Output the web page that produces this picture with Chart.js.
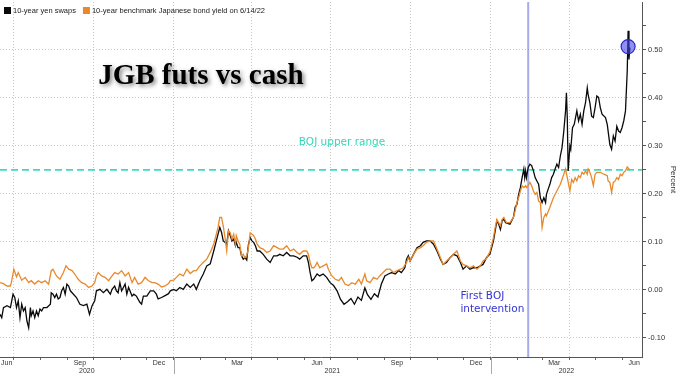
<!DOCTYPE html>
<html>
<head>
<meta charset="utf-8">
<script src="https://cdn.jsdelivr.net/npm/chart.js@4.4.1/dist/chart.umd.min.js"></script>
<style>
  html, body { margin: 0; padding: 0; background: #fff; }
  #wrap { position: relative; width: 680px; height: 374px; }
</style>
</head>
<body>
<div id="wrap"><canvas id="jgbChart"></canvas></div>
<script>
// x values are days counted from 15 Jun 2020
const startDate = Date.UTC(2020, 5, 15);
const dayOf = (y, m, d) => (Date.UTC(y, m, d) - startDate) / 864e5;

// 10-year yen swaps
const swapDays = [
  0, 2, 4, 8, 12, 15, 17, 19, 21, 23,
  25, 27, 29, 31, 33, 35, 36, 38, 40, 42,
  44, 46, 48, 50, 54, 58, 59, 61, 63, 65,
  67, 69, 71, 73, 75, 77, 79, 81, 83, 88,
  92, 96, 100, 102, 103, 106, 109, 111, 115, 119,
  123, 127, 129, 132, 134, 136, 138, 140, 142, 144,
  146, 148, 152, 154, 157, 161, 163, 165, 169, 173,
  177, 180, 182, 186, 190, 194, 196, 200, 203, 207,
  211, 215, 219, 223, 226, 230, 234, 238, 242, 246,
  249, 251, 253, 255, 257, 259, 261, 263, 265, 267,
  269, 271, 272, 274, 276, 278, 280, 282, 284, 286,
  288, 290, 292, 294, 296, 299, 303, 307, 311, 315,
  319, 322, 326, 330, 334, 338, 342, 345, 349, 353,
  355, 357, 359, 361, 365, 368, 372, 376, 380, 384,
  388, 392, 396, 400, 404, 408, 412, 416, 420, 423,
  427, 431, 435, 439, 443, 447, 451, 455, 459, 462,
  466, 468, 470, 472, 476, 480, 484, 487, 491, 495,
  499, 503, 507, 510, 514, 518, 522, 526, 530, 533,
  537, 541, 545, 549, 553, 556, 560, 564, 568, 570,
  572, 574, 576, 578, 580, 582, 587, 591, 593, 595,
  597, 599, 601, 603, 604, 605, 606, 608, 610, 612,
  614, 616, 618, 620, 622, 624, 626, 628, 629, 631,
  633, 635, 637, 639, 641, 643, 645, 647, 649, 651,
  652, 653, 654, 656, 657, 659, 661, 664, 666, 668,
  670, 672, 674, 676, 677, 679, 681, 683, 685, 687,
  689, 691, 693, 697, 699, 700, 702, 704, 706, 708,
  710, 712, 714, 716, 718, 720, 722, 723, 724, 725
];
const swapVals = [
  -0.051, -0.058, -0.037, -0.033, -0.037, -0.009, -0.016, -0.037, -0.023, -0.058,
  -0.030, -0.044, -0.037, -0.065, -0.079, -0.037, -0.054, -0.044, -0.058, -0.044,
  -0.054, -0.040, -0.044, -0.037, -0.037, -0.030, -0.006, -0.009, -0.016, -0.009,
  -0.019, -0.016, -0.002, 0.005, -0.009, 0.012, 0.008, -0.002, -0.006, -0.016,
  -0.030, -0.033, -0.030, -0.044, -0.051, -0.033, -0.023, -0.002, 0.001, -0.006,
  0.001, -0.009, 0.001, 0.008, -0.002, -0.006, 0.015, -0.002, 0.005, 0.012,
  -0.009, 0.005, -0.013, -0.009, -0.013, -0.026, -0.030, -0.013, -0.013, -0.002,
  -0.002, -0.009, -0.019, -0.016, -0.012, -0.008, -0.002, 0.001, -0.002, 0.005,
  0.001, 0.012, 0.005, 0.012, 0.001, 0.019, 0.033, 0.050, 0.054, 0.081,
  0.102, 0.116, 0.130, 0.120, 0.102, 0.099, 0.095, 0.123, 0.113, 0.102,
  0.106, 0.092, 0.099, 0.088, 0.088, 0.071, 0.064, 0.067, 0.062, 0.095,
  0.109, 0.102, 0.099, 0.092, 0.081, 0.081, 0.074, 0.064, 0.057, 0.071,
  0.071, 0.074, 0.071, 0.078, 0.071, 0.071, 0.068, 0.064, 0.071, 0.071,
  0.057, 0.036, 0.019, 0.022, 0.033, 0.029, 0.033, 0.026, 0.015, 0.009,
  -0.002, -0.020, -0.030, -0.025, -0.018, -0.030, -0.015, -0.022, 0.004, -0.010,
  -0.020, -0.008, -0.015, 0.012, 0.029, 0.033, 0.036, 0.033, 0.040, 0.036,
  0.046, 0.064, 0.071, 0.060, 0.074, 0.088, 0.092, 0.099, 0.102, 0.102,
  0.095, 0.081, 0.064, 0.053, 0.057, 0.067, 0.074, 0.071, 0.057, 0.043,
  0.050, 0.043, 0.046, 0.046, 0.050, 0.053, 0.067, 0.075, 0.102, 0.123,
  0.144, 0.137, 0.126, 0.144, 0.147, 0.140, 0.137, 0.151, 0.172, 0.178,
  0.199, 0.213, 0.234, 0.252, 0.234, 0.248, 0.234, 0.255, 0.262, 0.259,
  0.248, 0.234, 0.227, 0.220, 0.192, 0.182, 0.192, 0.182, 0.199, 0.210,
  0.220, 0.234, 0.241, 0.252, 0.262, 0.255, 0.279, 0.297, 0.331, 0.373,
  0.411, 0.359, 0.248, 0.300, 0.293, 0.338, 0.345, 0.373, 0.352, 0.366,
  0.345, 0.373, 0.390, 0.421, 0.407, 0.390, 0.362, 0.359, 0.380, 0.404,
  0.401, 0.380, 0.366, 0.359, 0.345, 0.331, 0.303, 0.293, 0.321, 0.310,
  0.341, 0.331, 0.328, 0.338, 0.352, 0.373, 0.456, 0.540, 0.480, 0.505
];

// 10-year benchmark JGB yield
const jgbDays = [
  0, 4, 8, 12, 13, 16, 19, 21, 25, 29,
  33, 36, 40, 44, 48, 52, 56, 59, 61, 65,
  69, 73, 76, 79, 83, 86, 90, 94, 98, 102,
  106, 109, 111, 113, 117, 121, 125, 129, 132, 136,
  140, 144, 148, 152, 155, 159, 163, 167, 171, 175,
  178, 182, 186, 190, 194, 196, 200, 203, 207, 211,
  215, 219, 223, 226, 230, 234, 238, 242, 246, 249,
  251, 253, 255, 257, 259, 261, 263, 265, 267, 269,
  271, 272, 274, 276, 278, 280, 282, 284, 286, 288,
  290, 292, 294, 296, 299, 303, 307, 311, 315, 319,
  322, 326, 330, 334, 338, 342, 345, 349, 353, 355,
  357, 359, 361, 363, 365, 368, 372, 376, 378, 382,
  386, 390, 393, 397, 401, 405, 409, 413, 416, 420,
  422, 426, 430, 434, 437, 441, 445, 449, 453, 457,
  461, 464, 468, 470, 472, 476, 480, 484, 487, 491,
  495, 499, 503, 507, 510, 514, 518, 522, 526, 530,
  533, 537, 541, 545, 549, 553, 556, 560, 564, 568,
  570, 572, 574, 576, 578, 580, 583, 587, 591, 593,
  595, 597, 599, 601, 603, 605, 606, 608, 610, 612,
  614, 616, 618, 620, 622, 624, 626, 628, 629, 633,
  637, 641, 645, 649, 651, 653, 656, 658, 660, 662,
  664, 666, 668, 670, 672, 674, 676, 677, 679, 681,
  683, 685, 687, 691, 695, 699, 700, 702, 704, 706,
  708, 710, 712, 714, 716, 718, 720, 722, 724, 725
];
const jgbVals = [
  0.015, 0.013, 0.008, 0.008, 0.015, 0.043, 0.027, 0.036, 0.020, 0.026,
  0.015, 0.019, 0.012, 0.019, 0.015, 0.019, 0.012, 0.040, 0.043, 0.029,
  0.022, 0.036, 0.050, 0.043, 0.040, 0.033, 0.022, 0.015, 0.012, 0.005,
  0.008, 0.015, 0.029, 0.036, 0.029, 0.026, 0.019, 0.029, 0.036, 0.033,
  0.040, 0.029, 0.036, 0.015, 0.026, 0.012, 0.015, 0.026, 0.019, 0.015,
  0.015, 0.012, 0.006, 0.008, 0.013, 0.019, 0.020, 0.026, 0.033, 0.029,
  0.043, 0.034, 0.040, 0.040, 0.050, 0.057, 0.064, 0.078, 0.095, 0.116,
  0.130, 0.151, 0.151, 0.133, 0.109, 0.081, 0.123, 0.119, 0.106, 0.116,
  0.095, 0.113, 0.102, 0.095, 0.071, 0.074, 0.067, 0.071, 0.088, 0.119,
  0.116, 0.113, 0.106, 0.095, 0.088, 0.085, 0.078, 0.081, 0.092, 0.088,
  0.085, 0.085, 0.092, 0.081, 0.085, 0.078, 0.074, 0.081, 0.081, 0.074,
  0.057, 0.046, 0.046, 0.050, 0.057, 0.046, 0.050, 0.054, 0.043, 0.029,
  0.022, 0.019, 0.026, 0.012, 0.009, 0.015, 0.012, 0.022, 0.012, 0.033,
  0.019, 0.015, 0.026, 0.022, 0.029, 0.036, 0.043, 0.043, 0.036, 0.040,
  0.043, 0.046, 0.057, 0.067, 0.060, 0.074, 0.085, 0.088, 0.092, 0.099,
  0.102, 0.102, 0.085, 0.067, 0.053, 0.060, 0.067, 0.074, 0.081, 0.060,
  0.053, 0.050, 0.046, 0.050, 0.043, 0.050, 0.060, 0.065, 0.080, 0.109,
  0.130, 0.147, 0.140, 0.133, 0.147, 0.151, 0.140, 0.140, 0.151, 0.165,
  0.182, 0.192, 0.206, 0.217, 0.213, 0.217, 0.213, 0.217, 0.224, 0.217,
  0.206, 0.199, 0.203, 0.185, 0.182, 0.130, 0.151, 0.158, 0.154, 0.172,
  0.192, 0.206, 0.220, 0.241, 0.252, 0.234, 0.206, 0.230, 0.224, 0.234,
  0.227, 0.238, 0.234, 0.245, 0.241, 0.248, 0.241, 0.252, 0.245, 0.234,
  0.217, 0.241, 0.245, 0.245, 0.241, 0.238, 0.227, 0.224, 0.203, 0.224,
  0.227, 0.234, 0.230, 0.241, 0.238, 0.245, 0.248, 0.256, 0.252, 0.251
];

const lastSwapDay = 723;
const lastSwapValue = 0.507;
const upperRange = 0.25;
const interventionDay = dayOf(2022, 1, 13);

const xMin = 0, xMax = 739;
const yMin = -0.14, yMax = 0.6;

const monthLabels = ['Jun', 'Sep', 'Dec', 'Mar', 'Jun', 'Sep', 'Dec', 'Mar', 'Jun'];
const monthLabelDates = [[2020, 5], [2020, 8], [2020, 11], [2021, 2], [2021, 5], [2021, 8], [2021, 11], [2022, 2], [2022, 5]];
const yearLabels = [2020, 2021, 2022];
const yTickValues = [-0.10, -0.05, 0, 0.05, 0.10, 0.15, 0.20, 0.25, 0.30, 0.35, 0.40, 0.45, 0.50, 0.55];

// month start ticks, quarters get a grid line
const monthTicks = [];
for (let i = 0; i < 24; i++) {
  const yr = 2020 + Math.floor((6 + i) / 12), m = (6 + i) % 12;
  monthTicks.push({ value: dayOf(yr, m, 1), major: m % 3 === 0 });
}

const toPoints = (days, vals) => days.map((d, i) => ({ x: d, y: vals[i] }));
const smallFont = '"Liberation Sans", Arial, sans-serif';

const axisText = {
  id: 'axisText',
  afterDraw(chart) {
    const { ctx, chartArea: a, scales: { x, y } } = chart;
    ctx.save();
    // month and year labels under the axis
    ctx.fillStyle = '#333';
    ctx.font = '7px ' + smallFont;
    ctx.textAlign = 'center';
    ctx.textBaseline = 'middle';
    monthLabels.forEach((txt, i) => {
      const w = ctx.measureText(txt).width;
      let px = x.getPixelForValue(dayOf(monthLabelDates[i][0], monthLabelDates[i][1], 15));
      px = Math.min(Math.max(px, a.left + w / 2 + 1), a.right - w / 2 - 1);
      ctx.fillText(txt, px, a.bottom + 6.5);
    });
    yearLabels.forEach(yr => {
      const from = Math.max(xMin, dayOf(yr, 0, 1));
      const to = Math.min(xMax, dayOf(yr + 1, 0, 1));
      ctx.fillText(String(yr), (x.getPixelForValue(from) + x.getPixelForValue(to)) / 2, a.bottom + 14);
    });
    ctx.strokeStyle = '#aaa';
    ctx.lineWidth = 1;
    [2021, 2022].forEach(yr => {
      const px = Math.round(x.getPixelForValue(dayOf(yr, 0, 1))) + 0.5;
      ctx.beginPath();
      ctx.moveTo(px, a.bottom);
      ctx.lineTo(px, chart.height);
      ctx.stroke();
    });

    // legend, left to right inside the plot
    ctx.textAlign = 'left';
    ctx.font = '7.5px ' + smallFont;
    let lx = a.left + 4;
    chart.data.datasets.slice(0, 2).forEach(ds => {
      ctx.fillStyle = ds.borderColor;
      ctx.fillRect(lx, 7, 7, 7);
      ctx.fillStyle = '#222';
      ctx.fillText(ds.label, lx + 9, 10.5);
      lx += 9 + ctx.measureText(ds.label).width + 7;
    });

    // notes
    ctx.font = '10.5px "DejaVu Sans", Verdana, sans-serif';
    ctx.fillStyle = '#36d6b8';
    ctx.fillText('BOJ upper range', x.getPixelForValue(344), y.getPixelForValue(0.308));
    ctx.fillStyle = '#3434d6';
    ctx.fillText('First BOJ', x.getPixelForValue(530), y.getPixelForValue(-0.0125));
    ctx.fillText('intervention', x.getPixelForValue(530), y.getPixelForValue(-0.041));

    // headline
    ctx.font = 'bold 29px "Liberation Serif", "Times New Roman", serif';
    ctx.textBaseline = 'alphabetic';
    ctx.shadowColor = 'rgba(0,0,0,0.5)';
    ctx.shadowBlur = 4;
    ctx.shadowOffsetX = 2;
    ctx.shadowOffsetY = 2;
    ctx.fillStyle = '#000';
    ctx.fillText('JGB futs vs cash', x.getPixelForValue(113), y.getPixelForValue(0.43));
    ctx.restore();
  }
};

const chartCtx = document.getElementById('jgbChart').getContext('2d');
const jgbChart = new Chart(chartCtx, {
  type: 'line',
  data: {
    datasets: [
      {
        label: '10-year yen swaps',
        data: toPoints(swapDays, swapVals),
        borderColor: '#0a0a0a',
        backgroundColor: '#0a0a0a',
        borderWidth: 1.3,
        pointRadius: 0,
        order: 2
      },
      {
        label: '10-year benchmark Japanese bond yield on 6/14/22',
        data: toPoints(jgbDays, jgbVals),
        borderColor: '#e9892c',
        backgroundColor: '#e9892c',
        borderWidth: 1.3,
        pointRadius: 0,
        order: 1
      },
      {
        label: 'upper',
        data: [{ x: xMin, y: upperRange }, { x: xMax, y: upperRange }],
        borderColor: '#3ddcc0',
        borderDash: [7, 4],
        borderWidth: 1.8,
        pointRadius: 0,
        order: 3
      },
      {
        label: 'intervention',
        data: [{ x: interventionDay, y: yMin }, { x: interventionDay, y: yMax }],
        borderColor: 'rgba(110,115,220,0.6)',
        borderWidth: 2,
        pointRadius: 0,
        order: 4
      },
      {
        label: 'last',
        data: [{ x: lastSwapDay, y: lastSwapValue }],
        showLine: false,
        pointRadius: 7,
        pointBackgroundColor: 'rgba(70,70,235,0.6)',
        pointBorderColor: '#2626c8',
        pointBorderWidth: 1.2,
        order: 0
      }
    ]
  },
  options: {
    responsive: true,
    maintainAspectRatio: false,
    animation: false,
    events: [],
    layout: { autoPadding: false, padding: { top: 2, left: 0, right: 0, bottom: 0 } },
    plugins: {
      tooltip: { enabled: false },
      legend: { display: false }
    },
    scales: {
      x: {
        type: 'linear',
        min: xMin,
        max: xMax,
        afterBuildTicks: axis => { axis.ticks = monthTicks.map(t => ({ value: t.value, major: t.major })); },
        afterFit: scale => { scale.height = 17; scale.paddingLeft = 0; scale.paddingRight = 0; },
        ticks: { display: false, autoSkip: false },
        grid: {
          color: c => (c.tick && c.tick.major ? '#c8c8c8' : 'rgba(0,0,0,0)'),
          tickColor: '#666',
          tickLength: 3,
          lineWidth: 1
        },
        border: { display: true, color: '#555', width: 1, dash: [1, 2] }
      },
      y: {
        position: 'right',
        min: yMin,
        max: yMax,
        afterBuildTicks: axis => {
          axis.ticks = yTickValues.map(v => ({ value: v, major: Math.round(v * 100) % 10 === 0 }));
        },
        afterFit: scale => { scale.width = 38; scale.paddingTop = 0; scale.paddingBottom = 0; },
        ticks: {
          autoSkip: false,
          padding: 2,
          color: '#333',
          font: { family: smallFont, size: 7.5 },
          callback: (v) => (Math.round(v * 100) % 10 === 0 ? v.toFixed(2) : '')
        },
        grid: {
          color: c => (c.tick && c.tick.major ? '#c8c8c8' : 'rgba(0,0,0,0)'),
          tickColor: '#555',
          tickLength: 4,
          lineWidth: 1
        },
        border: { display: true, color: '#555', width: 1, dash: [1, 2] },
        title: {
          display: true,
          text: 'Percent',
          color: '#333',
          font: { family: smallFont, size: 8 },
          padding: { top: 2, bottom: 0 }
        }
      }
    }
  },
  plugins: [axisText]
});
</script>
</body>
</html>
